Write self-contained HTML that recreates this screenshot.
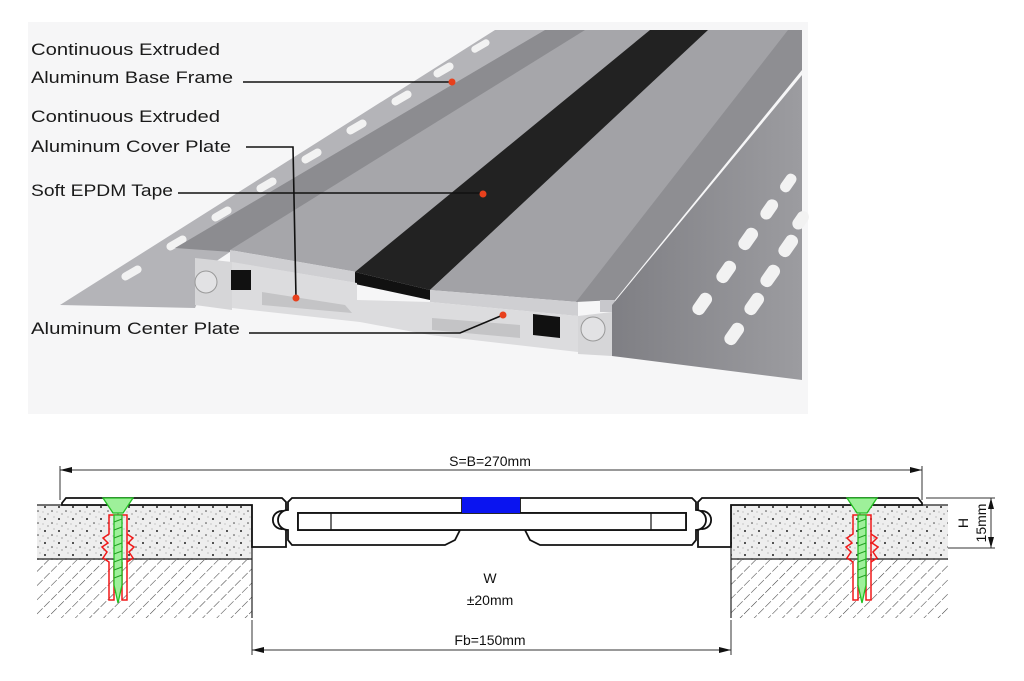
<!DOCTYPE html>
<html><head><meta charset="utf-8"><style>
html,body{margin:0;padding:0;background:#fff;}
svg{display:block;}
.lb{font-family:"Liberation Sans",sans-serif;font-size:17px;fill:#1a1a1a;}
.dm{font-family:"Liberation Sans",sans-serif;font-size:14px;fill:#111;}
</style></head><body>
<svg width="1024" height="681" viewBox="0 0 1024 681" xmlns="http://www.w3.org/2000/svg">
<defs>
<pattern id="hatch" width="10" height="10" patternUnits="userSpaceOnUse" patternTransform="rotate(45)">
<line x1="0" y1="0" x2="0" y2="10" stroke="#444" stroke-width="1.1" stroke-dasharray="8,2"/>
</pattern>
<pattern id="dots" width="14" height="12" patternUnits="userSpaceOnUse">
<rect width="14" height="12" fill="#eeeeee"/>
<circle cx="3" cy="3" r="1" fill="#222"/><circle cx="10" cy="7" r="0.8" fill="#444"/>
<circle cx="6" cy="10" r="0.6" fill="#666"/><circle cx="12" cy="1" r="0.5" fill="#777"/>
<circle cx="1" cy="8" r="0.5" fill="#888"/>
</pattern>
<linearGradient id="wall" x1="0" y1="0" x2="1" y2="0"><stop offset="0" stop-color="#7f7f84"/><stop offset="1" stop-color="#9c9ca0"/></linearGradient>
</defs>
<rect x="28" y="22" width="780" height="392" fill="#f6f6f7"/>
<!-- left flange -->
<polygon points="60,305 495,30 560,30 215,262 195,308" fill="#b4b4b8"/>
<g fill="#f2f2f2">
<rect x="0" y="0" width="22" height="8" rx="4" transform="translate(120,275) rotate(-30)"/>
<rect x="0" y="0" width="22" height="8" rx="4" transform="translate(165,245) rotate(-30)"/>
<rect x="0" y="0" width="22" height="8" rx="4" transform="translate(210,216) rotate(-30)"/>
<rect x="0" y="0" width="22" height="8" rx="4" transform="translate(255,187) rotate(-30)"/>
<rect x="0" y="0" width="22" height="8" rx="4" transform="translate(300,158) rotate(-30)"/>
<rect x="0" y="0" width="22" height="8" rx="4" transform="translate(345,129) rotate(-30)"/>
<rect x="0" y="0" width="22" height="8" rx="4" transform="translate(390,100) rotate(-30)"/>
<rect x="0" y="0" width="22" height="8" rx="4" transform="translate(432,72) rotate(-30)"/>
<rect x="0" y="0" width="20" height="7" rx="3.5" transform="translate(470,48) rotate(-30)"/>
</g>
<polygon points="175,248 545,30 590,30 232,252" fill="#8c8c90"/>
<polygon points="230,250 585,30 655,30 357,272" fill="#a6a6aa"/>
<polygon points="230,250 357,272 357,283 230,262" fill="#cfcfd2"/>
<polygon points="355,272 650,30 710,30 430,290" fill="#222"/>
<polygon points="355,272 430,290 430,300 355,284" fill="#111"/>
<polygon points="430,290 708,30 790,30 578,302" fill="#a2a2a6"/>
<polygon points="430,290 578,302 578,316 430,302" fill="#cfcfd2"/>
<polygon points="576,302 788,30 802,30 802,70 615,300" fill="#8e8e92"/>
<polygon points="600,300 615,300 615,312 600,312" fill="#c8c8cc"/>
<polygon points="612,305 802,75 802,380 612,356" fill="url(#wall)"/>
<g fill="#f2f2f2">
<rect x="0" y="0" width="24" height="13" rx="6" transform="translate(722,340) rotate(-55)"/>
<rect x="0" y="0" width="24" height="13" rx="6" transform="translate(742,310) rotate(-55)"/>
<rect x="0" y="0" width="24" height="13" rx="6" transform="translate(758,282) rotate(-55)"/>
<rect x="0" y="0" width="24" height="13" rx="6" transform="translate(776,252) rotate(-55)"/>
<rect x="0" y="0" width="20" height="12" rx="6" transform="translate(790,225) rotate(-55)"/>
<rect x="0" y="0" width="24" height="13" rx="6" transform="translate(690,310) rotate(-55)"/>
<rect x="0" y="0" width="24" height="13" rx="6" transform="translate(714,278) rotate(-55)"/>
<rect x="0" y="0" width="24" height="13" rx="6" transform="translate(736,245) rotate(-55)"/>
<rect x="0" y="0" width="22" height="12" rx="6" transform="translate(758,215) rotate(-55)"/>
<rect x="0" y="0" width="20" height="11" rx="5" transform="translate(778,188) rotate(-55)"/>
</g>
<polygon points="195,258 232,262 232,310 195,305" fill="#d6d6d8"/>
<circle cx="206" cy="282" r="11" fill="#e2e2e4" stroke="#999" stroke-width="1"/>
<polygon points="232,262 357,283 357,300 430,302 578,316 578,352 430,335 360,322 250,310 232,308" fill="#dcdcde"/>
<path d="M262,292 L345,305 L352,313 L262,305 Z" fill="#c4c4c6"/>
<path d="M432,318 L520,325 L520,338 L432,330 Z" fill="#c4c4c6"/>
<rect x="231" y="270" width="20" height="20" fill="#111"/>
<polygon points="533,314 560,317 560,338 533,335" fill="#111"/>
<polygon points="578,316 612,312 612,356 578,354" fill="#d6d6d8"/>
<circle cx="593" cy="329" r="12" fill="#e2e2e4" stroke="#999" stroke-width="1"/>
<text class="lb" x="31" y="55" textLength="189" lengthAdjust="spacingAndGlyphs">Continuous Extruded</text>
<text class="lb" x="31" y="83" textLength="202" lengthAdjust="spacingAndGlyphs">Aluminum Base Frame</text>
<text class="lb" x="31" y="122" textLength="189" lengthAdjust="spacingAndGlyphs">Continuous Extruded</text>
<text class="lb" x="31" y="152" textLength="200" lengthAdjust="spacingAndGlyphs">Aluminum Cover Plate</text>
<text class="lb" x="31" y="196" textLength="142" lengthAdjust="spacingAndGlyphs">Soft EPDM Tape</text>
<text class="lb" x="31" y="334" textLength="209" lengthAdjust="spacingAndGlyphs">Aluminum Center Plate</text>
<g stroke="#111" stroke-width="1.6" fill="none">
<line x1="243" y1="82" x2="452" y2="82"/>
<polyline points="246,147 293,147 296,298"/>
<line x1="178" y1="193" x2="483" y2="193"/>
<polyline points="249,333 460,333 503,315"/>
</g>
<g fill="#e8401c">
<circle cx="452" cy="82" r="3.5"/><circle cx="296" cy="298" r="3.5"/>
<circle cx="483" cy="194" r="3.5"/><circle cx="503" cy="315" r="3.5"/>
</g>
<!-- bottom drawing -->
<rect x="37" y="505" width="215" height="55" fill="url(#dots)"/>
<rect x="37" y="560" width="215" height="58" fill="url(#hatch)"/>
<rect x="731" y="505" width="217" height="55" fill="url(#dots)"/>
<rect x="731" y="560" width="217" height="58" fill="url(#hatch)"/>
<g stroke="#222" stroke-width="1.2" fill="none">
<line x1="37" y1="505" x2="252" y2="505"/><line x1="37" y1="559" x2="252" y2="559"/>
<line x1="252" y1="505" x2="252" y2="618"/>
<line x1="731" y1="505" x2="948" y2="505"/><line x1="731" y1="559" x2="948" y2="559"/>
<line x1="731" y1="505" x2="731" y2="618"/>
</g>
<g stroke="#111" stroke-width="1.8" fill="#fff">
<path d="M62,503 L66,498 L282,498 L286,502 L286,512 A9,9 0 1 0 286,528 L286,547 L252,547 L252,505 L62,505 Z"/>
<path d="M922,503 L918,498 L702,498 L698,502 L698,512 A9,9 0 1 1 698,528 L698,547 L731,547 L731,505 L922,505 Z"/>
<path d="M292,498 L462,498 L462,513 L298,513 L298,530 L460,530 L455,540 L445,545 L292,545 L288,540 L288,530 A9,9 0 1 1 288,510 L288,502 Z"/>
<path d="M692,498 L520,498 L520,513 L686,513 L686,530 L525,530 L530,540 L540,545 L692,545 L696,540 L696,530 A9,9 0 1 0 696,510 L696,502 Z"/>
<rect x="298" y="513" width="388" height="17"/>
</g>
<g stroke="#111" stroke-width="1.2"><line x1="331" y1="513" x2="331" y2="530"/><line x1="651" y1="513" x2="651" y2="530"/></g>
<rect x="462" y="497" width="58" height="16" fill="#0a14f0"/>
<g id="scr">
<path d="M103,498 L133,498 L123,513 L113,513 Z" fill="#9ef09a" stroke="#22c022" stroke-width="1.3"/>
<path d="M109,515 L127,515 L127,600 L122,600 L122,562 L118,600 L114,562 L114,600 L109,600 L109,562 L103,558 L107,552 L102,547 L108,543 L103,538 L109,534 Z" fill="none" stroke="#f01818" stroke-width="1.5"/>
<path d="M127,534 L133,538 L128,543 L134,547 L129,552 L133,558 L127,562" fill="none" stroke="#f01818" stroke-width="1.5"/>
<path d="M114,515 L122,515 L122,585 L118,603 L114,585 Z" fill="#9ef09a" stroke="#22c022" stroke-width="1.3"/>
<g stroke="#22a022" stroke-width="1"><line x1="114" y1="522" x2="122" y2="519"/><line x1="114" y1="530" x2="122" y2="527"/><line x1="114" y1="538" x2="122" y2="535"/><line x1="114" y1="546" x2="122" y2="543"/><line x1="114" y1="554" x2="122" y2="551"/><line x1="114" y1="562" x2="122" y2="559"/><line x1="114" y1="570" x2="122" y2="567"/><line x1="114" y1="578" x2="122" y2="575"/></g>
</g>
<use href="#scr" transform="translate(744,0)"/>
<g stroke="#333" stroke-width="1" fill="none">
<line x1="60" y1="470" x2="922" y2="470"/>
<line x1="60" y1="466" x2="60" y2="500"/><line x1="922" y1="466" x2="922" y2="500"/>
<line x1="252" y1="620" x2="252" y2="655"/><line x1="731" y1="620" x2="731" y2="655"/>
<line x1="252" y1="650" x2="731" y2="650"/>
<line x1="926" y1="498" x2="995" y2="498"/><line x1="948" y1="548" x2="995" y2="548"/>
<line x1="991" y1="498" x2="991" y2="548"/>
</g>
<g fill="#111">
<polygon points="60,470 72,467 72,473"/><polygon points="922,470 910,467 910,473"/>
<polygon points="252,650 264,647 264,653"/><polygon points="731,650 719,647 719,653"/>
<polygon points="991,498 988,509 994,509"/><polygon points="991,548 988,537 994,537"/>
</g>
<text class="dm" x="490" y="466" text-anchor="middle">S=B=270mm</text>
<text class="dm" x="490" y="583" text-anchor="middle">W</text>
<text class="dm" x="490" y="605" text-anchor="middle">±20mm</text>
<text class="dm" x="490" y="645" text-anchor="middle">Fb=150mm</text>
<text class="dm" transform="translate(968,523) rotate(-90)" text-anchor="middle">H</text>
<text class="dm" transform="translate(986,523) rotate(-90)" text-anchor="middle">15mm</text>
</svg>
</body></html>
